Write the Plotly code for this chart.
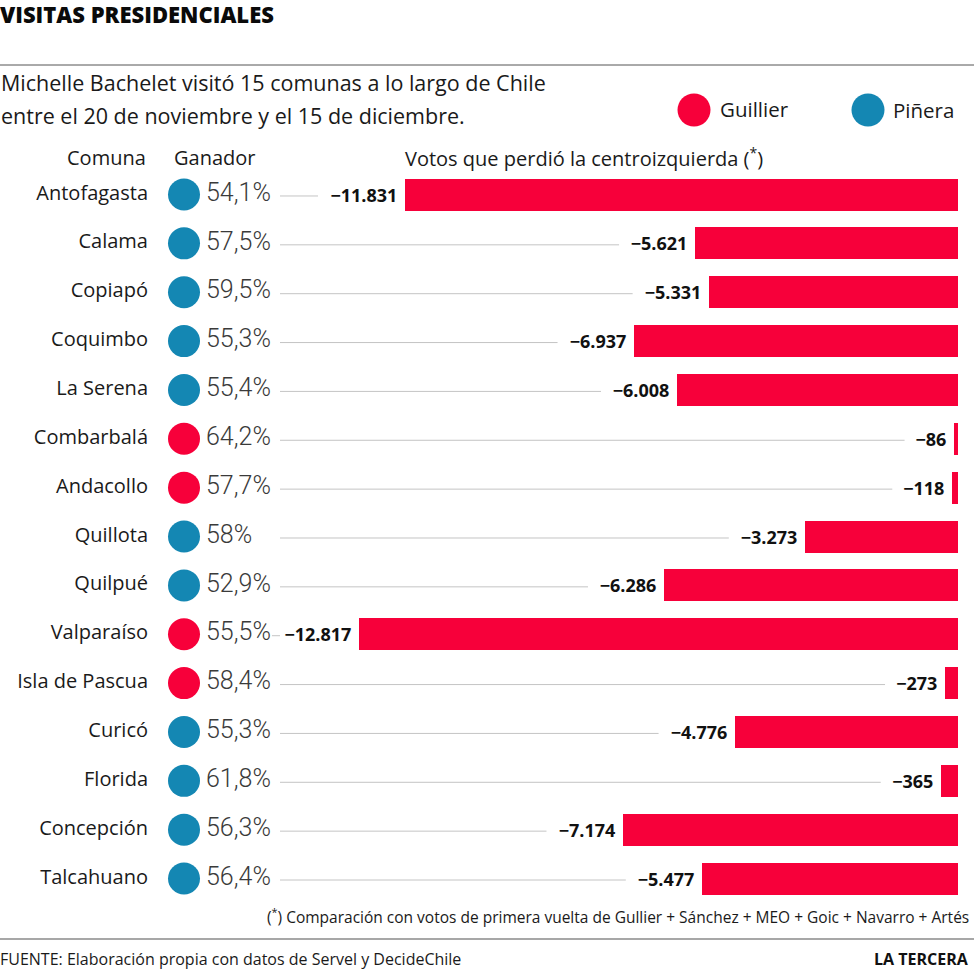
import plotly.graph_objects as go

# ---------------- data ----------------
comunas = ["Antofagasta", "Calama", "Copiapó", "Coquimbo", "La Serena", "Combarbalá",
           "Andacollo", "Quillota", "Quilpué", "Valparaíso", "Isla de Pascua", "Curicó",
           "Florida", "Concepción", "Talcahuano"]
ganador = ["Piñera", "Piñera", "Piñera", "Piñera", "Piñera", "Guillier",
           "Guillier", "Piñera", "Piñera", "Guillier", "Guillier", "Piñera",
           "Piñera", "Piñera", "Piñera"]
porcentaje = ["54,1%", "57,5%", "59,5%", "55,3%", "55,4%", "64,2%", "57,7%", "58%",
              "52,9%", "55,5%", "58,4%", "55,3%", "61,8%", "56,3%", "56,4%"]
votos_perdidos = [11831, 5621, 5331, 6937, 6008, 86, 118, 3273, 6286, 12817, 273,
                  4776, 365, 7174, 5477]

RED = "#f7003a"
BLUE = "#1487b3"
colores = {"Guillier": RED, "Piñera": BLUE}

W, H = 974, 972
FONT = "Open Sans, Noto Sans, DejaVu Sans, sans-serif"
NARROW = "Roboto, Liberation Sans Narrow, sans-serif"

# layout geometry (pixels)
ROW0, ROWH = 194.5, 48.86
ZERO_PX, SCALE = 958, 0.04674  # px per vote

n = len(comunas)
idx = list(range(n))


def fmt(v):
    return "\u2212" + f"{v:,}".replace(",", ".")


labels = [fmt(v) + " " for v in votos_perdidos]

fig = go.Figure()

# gray guide lines (from 280px to just before the value label)
for i, v in enumerate(votos_perdidos):
    bar_left = ZERO_PX - v * SCALE
    txt = fmt(v)
    tw = sum(5.2 if c == "." else 10.8 for c in txt)
    end = bar_left - 8 - tw - 9
    fig.add_trace(go.Scatter(x=[280, end], y=[i + 0.03, i + 0.03], xaxis="x2", yaxis="y",
                             mode="lines", line=dict(color="#c4c4c4", width=1),
                             hoverinfo="skip", showlegend=False))

# bars
fig.add_trace(go.Bar(
    x=[-v for v in votos_perdidos], y=idx, orientation="h",
    marker=dict(color=RED, line=dict(width=0)), width=0.655,
    text=labels, textposition="outside", constraintext="none",
    textfont=dict(family=FONT, size=18, color="#111111", weight="bold"),
    cliponaxis=False, showlegend=False, hoverinfo="skip"))

# comuna names
fig.add_trace(go.Scatter(x=[148] * n, y=idx, xaxis="x2", yaxis="y", mode="text",
                         text=comunas, textposition="middle left",
                         textfont=dict(family=FONT, size=20, color="#1a1a1a"),
                         showlegend=False, hoverinfo="skip"))

# winner circles
fig.add_trace(go.Scatter(x=[184] * n, y=idx, xaxis="x2", yaxis="y", mode="markers",
                         marker=dict(size=32, color=[colores[g] for g in ganador],
                                     line=dict(width=0)),
                         showlegend=False, hoverinfo="skip"))

# percentages
fig.add_trace(go.Scatter(x=[206] * n, y=idx, xaxis="x2", yaxis="y", mode="text",
                         text=porcentaje, textposition="middle right",
                         textfont=dict(family=NARROW, size=25, color="#3a3a3a", weight=300),
                         showlegend=False, hoverinfo="skip"))

# axes ranges so that rows / pixels line up
ytop = -ROW0 / ROWH
ybot = (H - ROW0) / ROWH


def py(px):
    return (px - ROW0) / ROWH


# legend circles
fig.add_trace(go.Scatter(x=[694, 868], y=[py(110), py(110)], xaxis="x2", yaxis="y",
                         mode="markers", marker=dict(size=33, color=[RED, BLUE]),
                         showlegend=False, hoverinfo="skip"))


def yp(px):
    return 1 - px / H


ann = []


def add(text, x, y, xanchor="left", size=18, weight="normal", color="#1a1a1a", family=FONT):
    ann.append(dict(text=text, x=x / W, y=yp(y), xref="paper", yref="paper",
                    xanchor=xanchor, yanchor="middle", showarrow=False,
                    font=dict(family=family, size=size, color=color, weight=weight)))


add("VISITAS PRESIDENCIALES", -2, 14, size=22, weight=900, color="#0a0a0a")
add("Michelle Bachelet visitó 15 comunas a lo largo de Chile", -1, 83, size=21.5)
add("entre el 20 de noviembre y el 15 de diciembre.", -1, 115, size=21.5)
add("Guillier", 718, 109, size=20.5)
add("Piñera", 891, 110, size=20.5)
add("Comuna", 148, 157, xanchor="right", size=20)
add("Ganador", 172, 157, size=20)
add("Votos que perdió la centroizquierda (<sup>*</sup>)", 403, 157, size=20)
add("(<sup>*</sup>) Comparación con votos de primera vuelta de Gullier + Sánchez + MEO + Goic + Navarro + Artés",
    971, 916, xanchor="right", size=15.5)
add("FUENTE: Elaboración propia con datos de Servel y DecideChile", -2, 959, size=16)
add("LA TERCERA", 971, 959, xanchor="right", size=16, weight="bold", color="#111111")

shapes = [
    dict(type="line", xref="paper", yref="paper", x0=0, x1=1, y0=yp(65), y1=yp(65),
         line=dict(color="#555555", width=1)),
    dict(type="line", xref="paper", yref="paper", x0=0, x1=1, y0=yp(939), y1=yp(939),
         line=dict(color="#8a8a8a", width=1.5)),
]

fig.update_layout(
    width=W, height=H, margin=dict(l=0, r=0, t=0, b=0),
    paper_bgcolor="white", plot_bgcolor="white",
    xaxis=dict(range=[-ZERO_PX / SCALE, (W - ZERO_PX) / SCALE], visible=False,
               fixedrange=True),
    xaxis2=dict(range=[0, W], overlaying="x", visible=False, fixedrange=True),
    yaxis=dict(range=[ybot, ytop], visible=False, fixedrange=True),
    annotations=ann, shapes=shapes, bargap=0, showlegend=False,
)

fig.write_html("out.html", config={"displayModeBar": False},
               post_script="document.body.style.margin='0px';document.body.style.overflow='hidden';")
